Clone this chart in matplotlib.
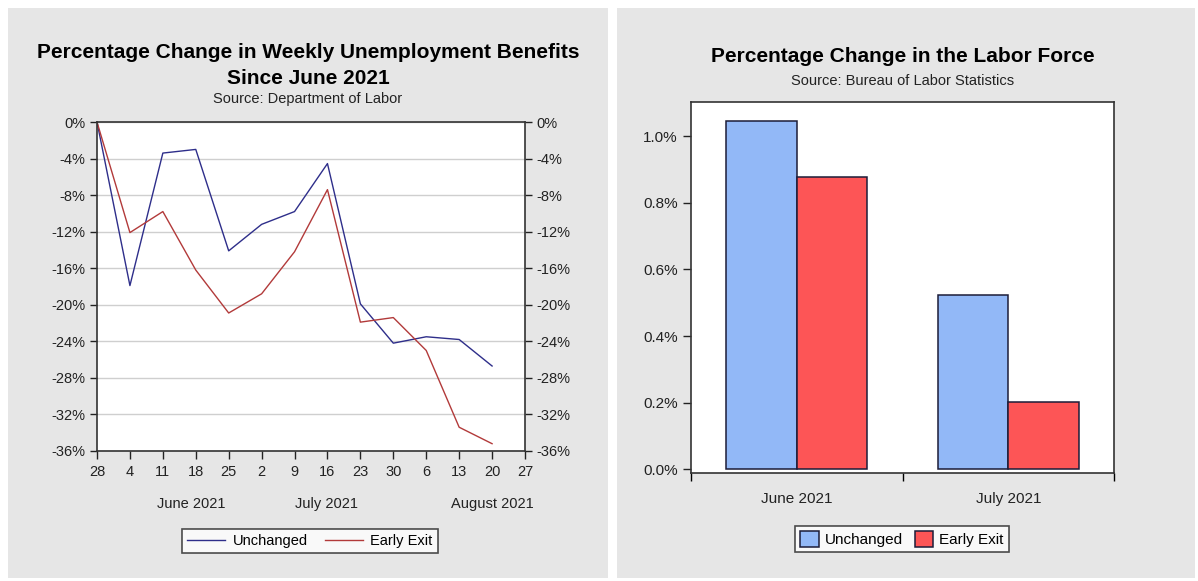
import matplotlib
matplotlib.use("Agg")
import matplotlib.pyplot as plt
from matplotlib.patches import Rectangle
import matplotlib.transforms as mtransforms

W, H = 1198, 581
fig = plt.figure(figsize=(W / 100, H / 100), dpi=100)
fig.patch.set_facecolor("white")
plt.rcParams["font.family"] = ["Liberation Sans", "DejaVu Sans"]

# ---------------- data ----------------
week_labels = ["28", "4", "11", "18", "25", "2", "9", "16", "23", "30", "6", "13", "20", "27"]
unchanged_weekly = [0.0, -17.9, -3.4, -3.0, -14.1, -11.2, -9.8, -4.55, -19.9, -24.2, -23.5, -23.8, -26.7]
early_exit_weekly = [0.0, -12.1, -9.8, -16.2, -20.9, -18.8, -14.2, -7.4, -21.9, -21.4, -25.0, -33.4, -35.2]
month_labels = ["June 2021", "July 2021", "August 2021"]
month_pos = [2.86, 6.97, 12.0]
y_ticks_line = [0, -4, -8, -12, -16, -20, -24, -28, -32, -36]

bar_categories = ["June 2021", "July 2021"]
unchanged_lf = [1.045, 0.523]
early_exit_lf = [0.877, 0.201]
y_ticks_bar = [0.0, 0.2, 0.4, 0.6, 0.8, 1.0]

BG = "#e6e6e6"
BLUE_LINE = "#2e2e8a"
RED_LINE = "#b23a3a"
BLUE_BAR = "#92b8f7"
RED_BAR = "#fd5556"
EDGE = "#1c1c38"
TXT = "#222222"


def px_axes(x0, y0, x1, y1, **kw):
    return fig.add_axes([x0 / W, 1 - y1 / H, (x1 - x0) / W, (y1 - y0) / H], **kw)


# panel backgrounds
fig.add_artist(Rectangle((8 / W, 1 - 578 / H), 600 / W, 570 / H, transform=fig.transFigure,
                         facecolor=BG, edgecolor="none", zorder=-10))
fig.add_artist(Rectangle((617 / W, 1 - 578 / H), 578 / W, 570 / H, transform=fig.transFigure,
                         facecolor=BG, edgecolor="none", zorder=-10))

# ---------------- left: line chart ----------------
ax = px_axes(97, 122, 525, 451)
x = list(range(len(unchanged_weekly)))
ax.plot(x, unchanged_weekly, color=BLUE_LINE, lw=1.0, label="Unchanged")
ax.plot(x, early_exit_weekly, color=RED_LINE, lw=1.0, label="Early Exit")
ax.set_xlim(0, len(week_labels) - 1)
ax.set_ylim(-36, 0)
ax.set_xticks(range(len(week_labels)))
ax.set_xticklabels(week_labels)
ax.set_yticks(y_ticks_line)
ax.set_yticklabels([f"{v}%" for v in y_ticks_line])
ax.tick_params(axis="y", which="both", direction="out", length=5, width=1, labelsize=10.5,
               right=True, labelright=True, colors=TXT)
ax.tick_params(axis="x", direction="out", length=6, width=1, labelsize=10.5, pad=4, colors=TXT)
ax.grid(axis="y", color="#cfcfcf", lw=1)
ax.set_axisbelow(True)
for s in ax.spines.values():
    s.set_color("#333333")
    s.set_linewidth(1.2)
trans = mtransforms.blended_transform_factory(ax.transData, ax.transAxes)
for lab, pos in zip(month_labels, month_pos):
    ax.text(pos, -0.14, lab, transform=trans, ha="center", va="top", fontsize=10.5, color=TXT)

fig.text(308 / W, 1 - 52 / H, "Percentage Change in Weekly Unemployment Benefits", ha="center",
         va="center", fontsize=15, fontweight="bold")
fig.text(308 / W, 1 - 78 / H, "Since June 2021", ha="center", va="center", fontsize=15,
         fontweight="bold")
fig.text(308 / W, 1 - 99 / H, "Source: Department of Labor", ha="center", va="center",
         fontsize=10.5, color=TXT)

leg = ax.legend(loc="center", bbox_to_anchor=((310 - 97) / 428, -(541 - 451) / 329), ncol=2,
                fontsize=10.5, frameon=True, fancybox=False, edgecolor=TXT,
                handlelength=2.6, columnspacing=1.2, borderpad=0.35, handletextpad=0.5)
leg.get_frame().set_linewidth(1.2)

# ---------------- right: bar chart ----------------
bx = px_axes(691, 102, 1114, 473)
bw = 1 / 3
cx = [0.5 + i for i in range(len(bar_categories))]
bx.bar([c - bw / 2 for c in cx], unchanged_lf, width=bw, color=BLUE_BAR, edgecolor=EDGE, lw=1.1,
       label="Unchanged")
bx.bar([c + bw / 2 for c in cx], early_exit_lf, width=bw, color=RED_BAR, edgecolor=EDGE, lw=1.1,
       label="Early Exit")
bx.set_xlim(0, len(bar_categories))
bx.set_ylim(-0.011, 1.102)
bx.set_xticks(cx)
bx.set_xticklabels(bar_categories)
bx.set_xticks(range(len(bar_categories) + 1), minor=True)
bx.tick_params(axis="x", which="major", length=0, pad=14, labelsize=11, colors=TXT)
bx.tick_params(axis="x", which="minor", direction="out", length=6, width=1)
bx.set_yticks(y_ticks_bar)
bx.set_yticklabels([f"{v:.1f}%" for v in y_ticks_bar])
bx.tick_params(axis="y", direction="out", length=6, width=1, labelsize=11, colors=TXT)
for s in bx.spines.values():
    s.set_color("#333333")
    s.set_linewidth(1.2)

fig.text(903 / W, 1 - 56 / H, "Percentage Change in the Labor Force", ha="center", va="center",
         fontsize=15, fontweight="bold")
fig.text(903 / W, 1 - 81 / H, "Source: Bureau of Labor Statistics", ha="center", va="center",
         fontsize=10.5, color=TXT)

leg2 = bx.legend(loc="center", bbox_to_anchor=((902 - 691) / 423, -(539 - 473) / 371), ncol=2,
                 fontsize=11, frameon=True, fancybox=False, edgecolor=TXT,
                 handlelength=1.2, handleheight=1.2, columnspacing=0.8, borderpad=0.35,
                 handletextpad=0.4)
leg2.get_frame().set_linewidth(1.2)

fig.savefig("out.png", dpi=100, facecolor=fig.get_facecolor())
